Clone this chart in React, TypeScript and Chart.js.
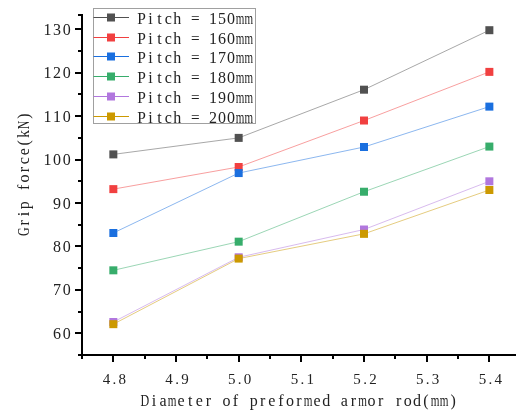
import React, { useEffect, useRef } from 'react';
import { Chart, registerables } from 'chart.js';

Chart.register(...registerables);

const diameters = [4.8, 5.0, 5.2, 5.4];
const seriesLabels = ['Pitch = 150mm', 'Pitch = 160mm', 'Pitch = 170mm', 'Pitch = 180mm', 'Pitch = 190mm', 'Pitch = 200mm'];
const pitch150 = [101.2, 105.0, 116.1, 129.8];
const pitch160 = [93.2, 98.3, 109.0, 120.2];
const pitch170 = [83.1, 96.9, 102.9, 112.2];
const pitch180 = [74.5, 81.1, 92.6, 103.0];
const pitch190 = [62.6, 77.5, 83.9, 95.0];
const pitch200 = [62.1, 77.2, 82.9, 93.0];
const seriesColors = ['#515151', '#F14040', '#1A6FDF', '#37AD6B', '#B177DE', '#CC9900'];

const xMajorTicks = [4.8, 4.9, 5.0, 5.1, 5.2, 5.3, 5.4];
const xMinorTicks = [4.75, 4.85, 4.95, 5.05, 5.15, 5.25, 5.35];
const yMajorTicks = [60, 70, 80, 90, 100, 110, 120, 130];
const yMinorTicks = [55, 65, 75, 85, 95, 105, 115, 125];

const xTitle = 'Diameter of preformed armor rod(mm)';
const yTitle = 'Grip force(kN)';

const SERIF = '"Liberation Serif", "Times New Roman", serif';
const TEXT = '#222';

const allSeries = [pitch150, pitch160, pitch170, pitch180, pitch190, pitch200];

// draws text on a fixed character grid (half-width CJK-font look)
function drawMono(ctx: any, text: string, x: number, y: number, cell: number, size: number, align: 'left' | 'center' | 'right') {
  const total = cell * text.length;
  let start = x;
  if (align === 'center') start = x - total / 2;
  if (align === 'right') start = x - total;
  ctx.save();
  ctx.font = size + 'px ' + SERIF;
  ctx.textAlign = 'center';
  ctx.textBaseline = 'alphabetic';
  ctx.fillStyle = TEXT;
  for (let i = 0; i < text.length; i++) {
    const ch = text[i];
    if (ch === ' ') continue;
    const w = ctx.measureText(ch).width;
    const sx = w > cell * 0.96 ? (cell * 0.96) / w : 1;
    const cx = start + cell * i + cell / 2;
    ctx.save();
    ctx.translate(cx, y);
    ctx.scale(sx, 1);
    ctx.fillText(ch, 0, 0);
    ctx.restore();
  }
  ctx.restore();
}

const decorPlugin = {
  id: 'decor',
  afterDraw(chart: any) {
    const ctx = chart.ctx;
    const xs = chart.scales.x;
    const ys = chart.scales.y;
    const area = chart.chartArea;
    ctx.save();
    ctx.strokeStyle = '#000';
    ctx.lineWidth = 2;
    ctx.beginPath();
    xMinorTicks.forEach((v) => {
      const px = Math.round(xs.getPixelForValue(v));
      ctx.moveTo(px, area.bottom);
      ctx.lineTo(px, area.bottom + 4);
    });
    yMinorTicks.forEach((v) => {
      const py = Math.round(ys.getPixelForValue(v));
      ctx.moveTo(area.left, py);
      ctx.lineTo(area.left - 4, py);
    });
    ctx.moveTo(area.left, area.top);
    ctx.lineTo(area.left - 4, area.top);
    ctx.stroke();

    // tick labels
    yMajorTicks.forEach((v) => {
      const py = ys.getPixelForValue(v);
      drawMono(ctx, String(v), 71.5, py + 5.5, 9.6, 16, 'right');
    });
    xMajorTicks.forEach((v) => {
      const px = xs.getPixelForValue(v);
      drawMono(ctx, v.toFixed(1), px + 1, 384, 7.9, 15, 'center');
    });

    // axis titles
    drawMono(ctx, xTitle, (area.left + area.right) / 2, 405.5, 9.07, 16, 'center');
    ctx.save();
    ctx.translate(28.5, 174);
    ctx.rotate(-Math.PI / 2);
    drawMono(ctx, yTitle, 0, 0, 8.9, 16, 'center');
    ctx.restore();

    // legend
    const bx = 93.5, by = 8.5, bw = 162, bh = 115;
    ctx.strokeStyle = '#a0a0a0';
    ctx.lineWidth = 1;
    ctx.strokeRect(bx, by, bw, bh);
    chart.data.datasets.forEach((ds: any, i: number) => {
      const cy = Math.round(17 + i * 19.7);
      ctx.strokeStyle = ds.pointBackgroundColor;
      ctx.lineWidth = 1;
      ctx.beginPath();
      ctx.moveTo(bx, cy + 0.5);
      ctx.lineTo(129, cy + 0.5);
      ctx.stroke();
      ctx.fillStyle = ds.pointBackgroundColor;
      ctx.fillRect(107, cy - 3.5, 8, 8);
      drawMono(ctx, ds.label, 137, cy + 6.5, 8.95, 16, 'left');
    });
    ctx.restore();
  },
};

export default function App() {
  const ref = useRef<HTMLCanvasElement | null>(null);
  useEffect(() => {
    let chart: any = null;
    let cancelled = false;
    const build = () => {
      if (cancelled || !ref.current) return;
      const datasets = allSeries.map((vals, i) => ({
        label: seriesLabels[i],
        data: diameters.map((d, j) => ({ x: d, y: vals[j] })),
        borderColor: seriesColors[i] + '80',
        borderWidth: 1,
        pointBackgroundColor: seriesColors[i],
        pointBorderWidth: 0,
        pointStyle: 'rect',
        pointRadius: 5.66,
        pointHoverRadius: 5.66,
        order: allSeries.length - i,
        tension: 0,
      }));
      chart = new Chart(ref.current, {
        type: 'line',
        data: { datasets },
        plugins: [decorPlugin],
        options: {
          animation: false,
          responsive: false,
          layout: { autoPadding: false, padding: { top: 15, right: 0, left: 0, bottom: 0 } },
          plugins: { legend: { display: false }, tooltip: { enabled: false } },
          scales: {
            x: {
              type: 'linear',
              min: 4.75,
              max: 5.4425,
              afterFit: (s: any) => { s.height = 63; },
              afterBuildTicks: (s: any) => { s.ticks = xMajorTicks.map((v) => ({ value: v })); },
              border: { display: true, color: '#000', width: 2 },
              grid: { display: true, drawOnChartArea: false, drawTicks: true, tickLength: 7, color: '#000', lineWidth: 2 },
              ticks: { display: false },
              title: { display: false },
            },
            y: {
              type: 'linear',
              min: 55,
              max: 133.3,
              afterFit: (s: any) => { s.width = 82; },
              afterBuildTicks: (s: any) => { s.ticks = yMajorTicks.map((v) => ({ value: v })); },
              border: { display: true, color: '#000', width: 2 },
              grid: { display: true, drawOnChartArea: false, drawTicks: true, tickLength: 7, color: '#000', lineWidth: 2 },
              ticks: { display: false },
              title: { display: false },
            },
          },
        },
      });
    };
    const fontsApi: any = (document as any).fonts;
    if (fontsApi && fontsApi.load) {
      fontsApi.load('16px "Liberation Serif"').then(build, build);
    } else {
      build();
    }
    return () => {
      cancelled = true;
      if (chart) chart.destroy();
    };
  }, []);
  return (
    <div style={{ position: 'fixed', left: 0, top: 0, width: 516, height: 418, background: '#fff' }}>
      <canvas ref={ref} width={516} height={418} style={{ width: 516, height: 418, display: 'block' }} />
    </div>
  );
}
